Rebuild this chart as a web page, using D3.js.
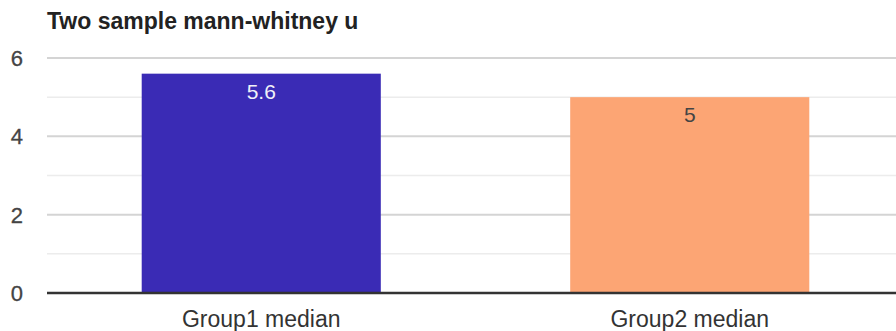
<!DOCTYPE html>
<html><head><meta charset="utf-8">
<script src="https://cdn.jsdelivr.net/npm/d3@7"></script>
<style>body{margin:0;background:#fff;}svg{display:block;font-family:"Liberation Sans",Arial,sans-serif;}</style>
</head><body>
<svg id="c" width="896" height="331"></svg>
<script>
const title = "Two sample mann-whitney u";
const categories = ["Group1 median", "Group2 median"];
const values = [5.6, 5];
const valueLabels = ["5.6", "5"];
const colors = ["#3a2bb5", "#fca574"];
const labelColors = ["#f0f0f8", "#444444"];
const yTicks = [0, 2, 4, 6];
const yMinor = [1, 3, 5];

const svg = d3.select("#c");
const x = d3.scaleBand().domain(categories).range([47, 904]).paddingInner(0.442).paddingOuter(0.221);
const y = d3.scaleLinear().domain([0, 6]).range([293, 58]);

svg.append("text").attr("x", 47).attr("y", 29).attr("font-size", 23).attr("font-weight", "bold")
  .attr("fill", "#222").text(title);

svg.selectAll(".minor").data(yMinor).join("line")
  .attr("x1", 47).attr("x2", 896).attr("y1", d => y(d)).attr("y2", d => y(d))
  .attr("stroke", "#ececec").attr("stroke-width", 1.5);
svg.selectAll(".major").data(yTicks.filter(d => d !== 0)).join("line")
  .attr("x1", 47).attr("x2", 896).attr("y1", d => y(d)).attr("y2", d => y(d))
  .attr("stroke", "#d4d4d4").attr("stroke-width", 2);

svg.selectAll(".yl").data(yTicks).join("text")
  .attr("x", 23).attr("y", d => y(d) + 8).attr("text-anchor", "end")
  .attr("font-size", 22).attr("fill", "#444").attr("stroke", "#444").attr("stroke-width", 0.3).text(d => d);

svg.selectAll(".bar").data(values).join("rect")
  .attr("x", (d, i) => x(categories[i])).attr("width", x.bandwidth())
  .attr("y", d => y(d)).attr("height", d => y(0) - y(d))
  .attr("fill", (d, i) => colors[i]);

svg.selectAll(".vl").data(values).join("text")
  .attr("x", (d, i) => x(categories[i]) + x.bandwidth() / 2)
  .attr("y", d => y(d) + 25).attr("text-anchor", "middle")
  .attr("font-size", 21).attr("fill", (d, i) => labelColors[i]).text((d, i) => valueLabels[i]);

svg.append("line").attr("x1", 47).attr("x2", 896).attr("y1", y(0)).attr("y2", y(0))
  .attr("stroke", "#333").attr("stroke-width", 2.5);

svg.selectAll(".xl").data(categories).join("text")
  .attr("x", d => x(d) + x.bandwidth() / 2).attr("y", 327).attr("text-anchor", "middle")
  .attr("font-size", 23).attr("fill", "#333").text(d => d);
</script>
</body></html>
